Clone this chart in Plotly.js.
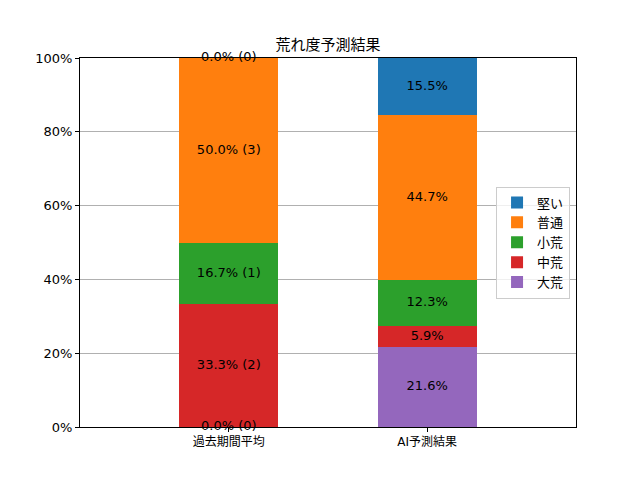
<!DOCTYPE html>
<html>
<head>
<meta charset="utf-8">
<script src="https://cdn.plot.ly/plotly-3.0.1.min.js"></script>
<style>body{margin:0;}#chart{width:640px;height:480px;}</style>
</head>
<body>
<div id="chart"></div>
<script>
const categories = ["過去期間平均", "AI予測結果"];
// stacked bottom to top
const levels = ["大荒", "中荒", "小荒", "普通", "堅い"];
const colors = ["#9467bd", "#d62728", "#2ca02c", "#ff7f0e", "#1f77b4"];
const pastPct = [0.0, 33.3, 16.7, 50.0, 0.0];
const pastCount = [0, 2, 1, 3, 0];
const aiPct = [21.6, 5.9, 12.3, 44.7, 15.5];

const font = "DejaVu Sans, Noto Sans CJK JP, sans-serif";

let traces = [];
for (let i = 0; i < levels.length; i++) {
  traces.push({
    type: "bar",
    name: levels[i],
    x: categories,
    y: [pastPct[i], aiPct[i]],
    marker: {color: colors[i]},
    hoverinfo: "none"
  });
}

// labels at middle of each segment
let lx = [], ly = [], lt = [];
let base0 = 0, base1 = 0;
for (let i = 0; i < levels.length; i++) {
  lx.push(categories[0]);
  ly.push(base0 + pastPct[i] / 2);
  lt.push(pastPct[i].toFixed(1) + "% (" + pastCount[i] + ")");
  base0 += pastPct[i];
  lx.push(categories[1]);
  ly.push(base1 + aiPct[i] / 2);
  lt.push(aiPct[i].toFixed(1) + "%");
  base1 += aiPct[i];
}
traces.push({
  type: "scatter",
  mode: "text",
  x: lx,
  y: ly,
  text: lt,
  textfont: {family: font, size: 13, color: "#000"},
  showlegend: false,
  hoverinfo: "none",
  cliponaxis: false
});

const layout = {
  width: 640,
  height: 480,
  barmode: "stack",
  bargap: 0.5,
  plot_bgcolor: "#fff",
  paper_bgcolor: "#fff",
  margin: {l: 80, r: 64, t: 58, b: 53},
  font: {family: font, size: 13, color: "#000"},
  title: {text: "荒れ度予測結果", font: {size: 15}, x: 0.5, xref: "paper", y: 1 - 45 / 480, yanchor: "middle"},
  xaxis: {
    type: "category",
    range: [-0.75, 1.75],
    showline: true, mirror: true, linecolor: "#000", linewidth: 1,
    ticks: "outside", ticklen: 4, tickcolor: "#000",
    showgrid: false, zeroline: false,
    tickfont: {size: 12}
  },
  yaxis: {
    range: [0, 100],
    dtick: 20,
    ticksuffix: "%",
    showline: true, mirror: true, linecolor: "#000", linewidth: 1,
    ticks: "outside", ticklen: 4, tickcolor: "#000",
    showgrid: true, gridcolor: "#b0b0b0", gridwidth: 1,
    zeroline: false
  },
  legend: {
    x: 0.988, xanchor: "right",
    y: 0.5, yanchor: "middle",
    traceorder: "reversed",
    bordercolor: "#cccccc", borderwidth: 1,
    bgcolor: "rgba(255,255,255,0.8)",
    font: {size: 13}
  },
  showlegend: true
};

Plotly.newPlot("chart", traces, layout, {displayModeBar: false, staticPlot: true});
</script>
</body>
</html>
